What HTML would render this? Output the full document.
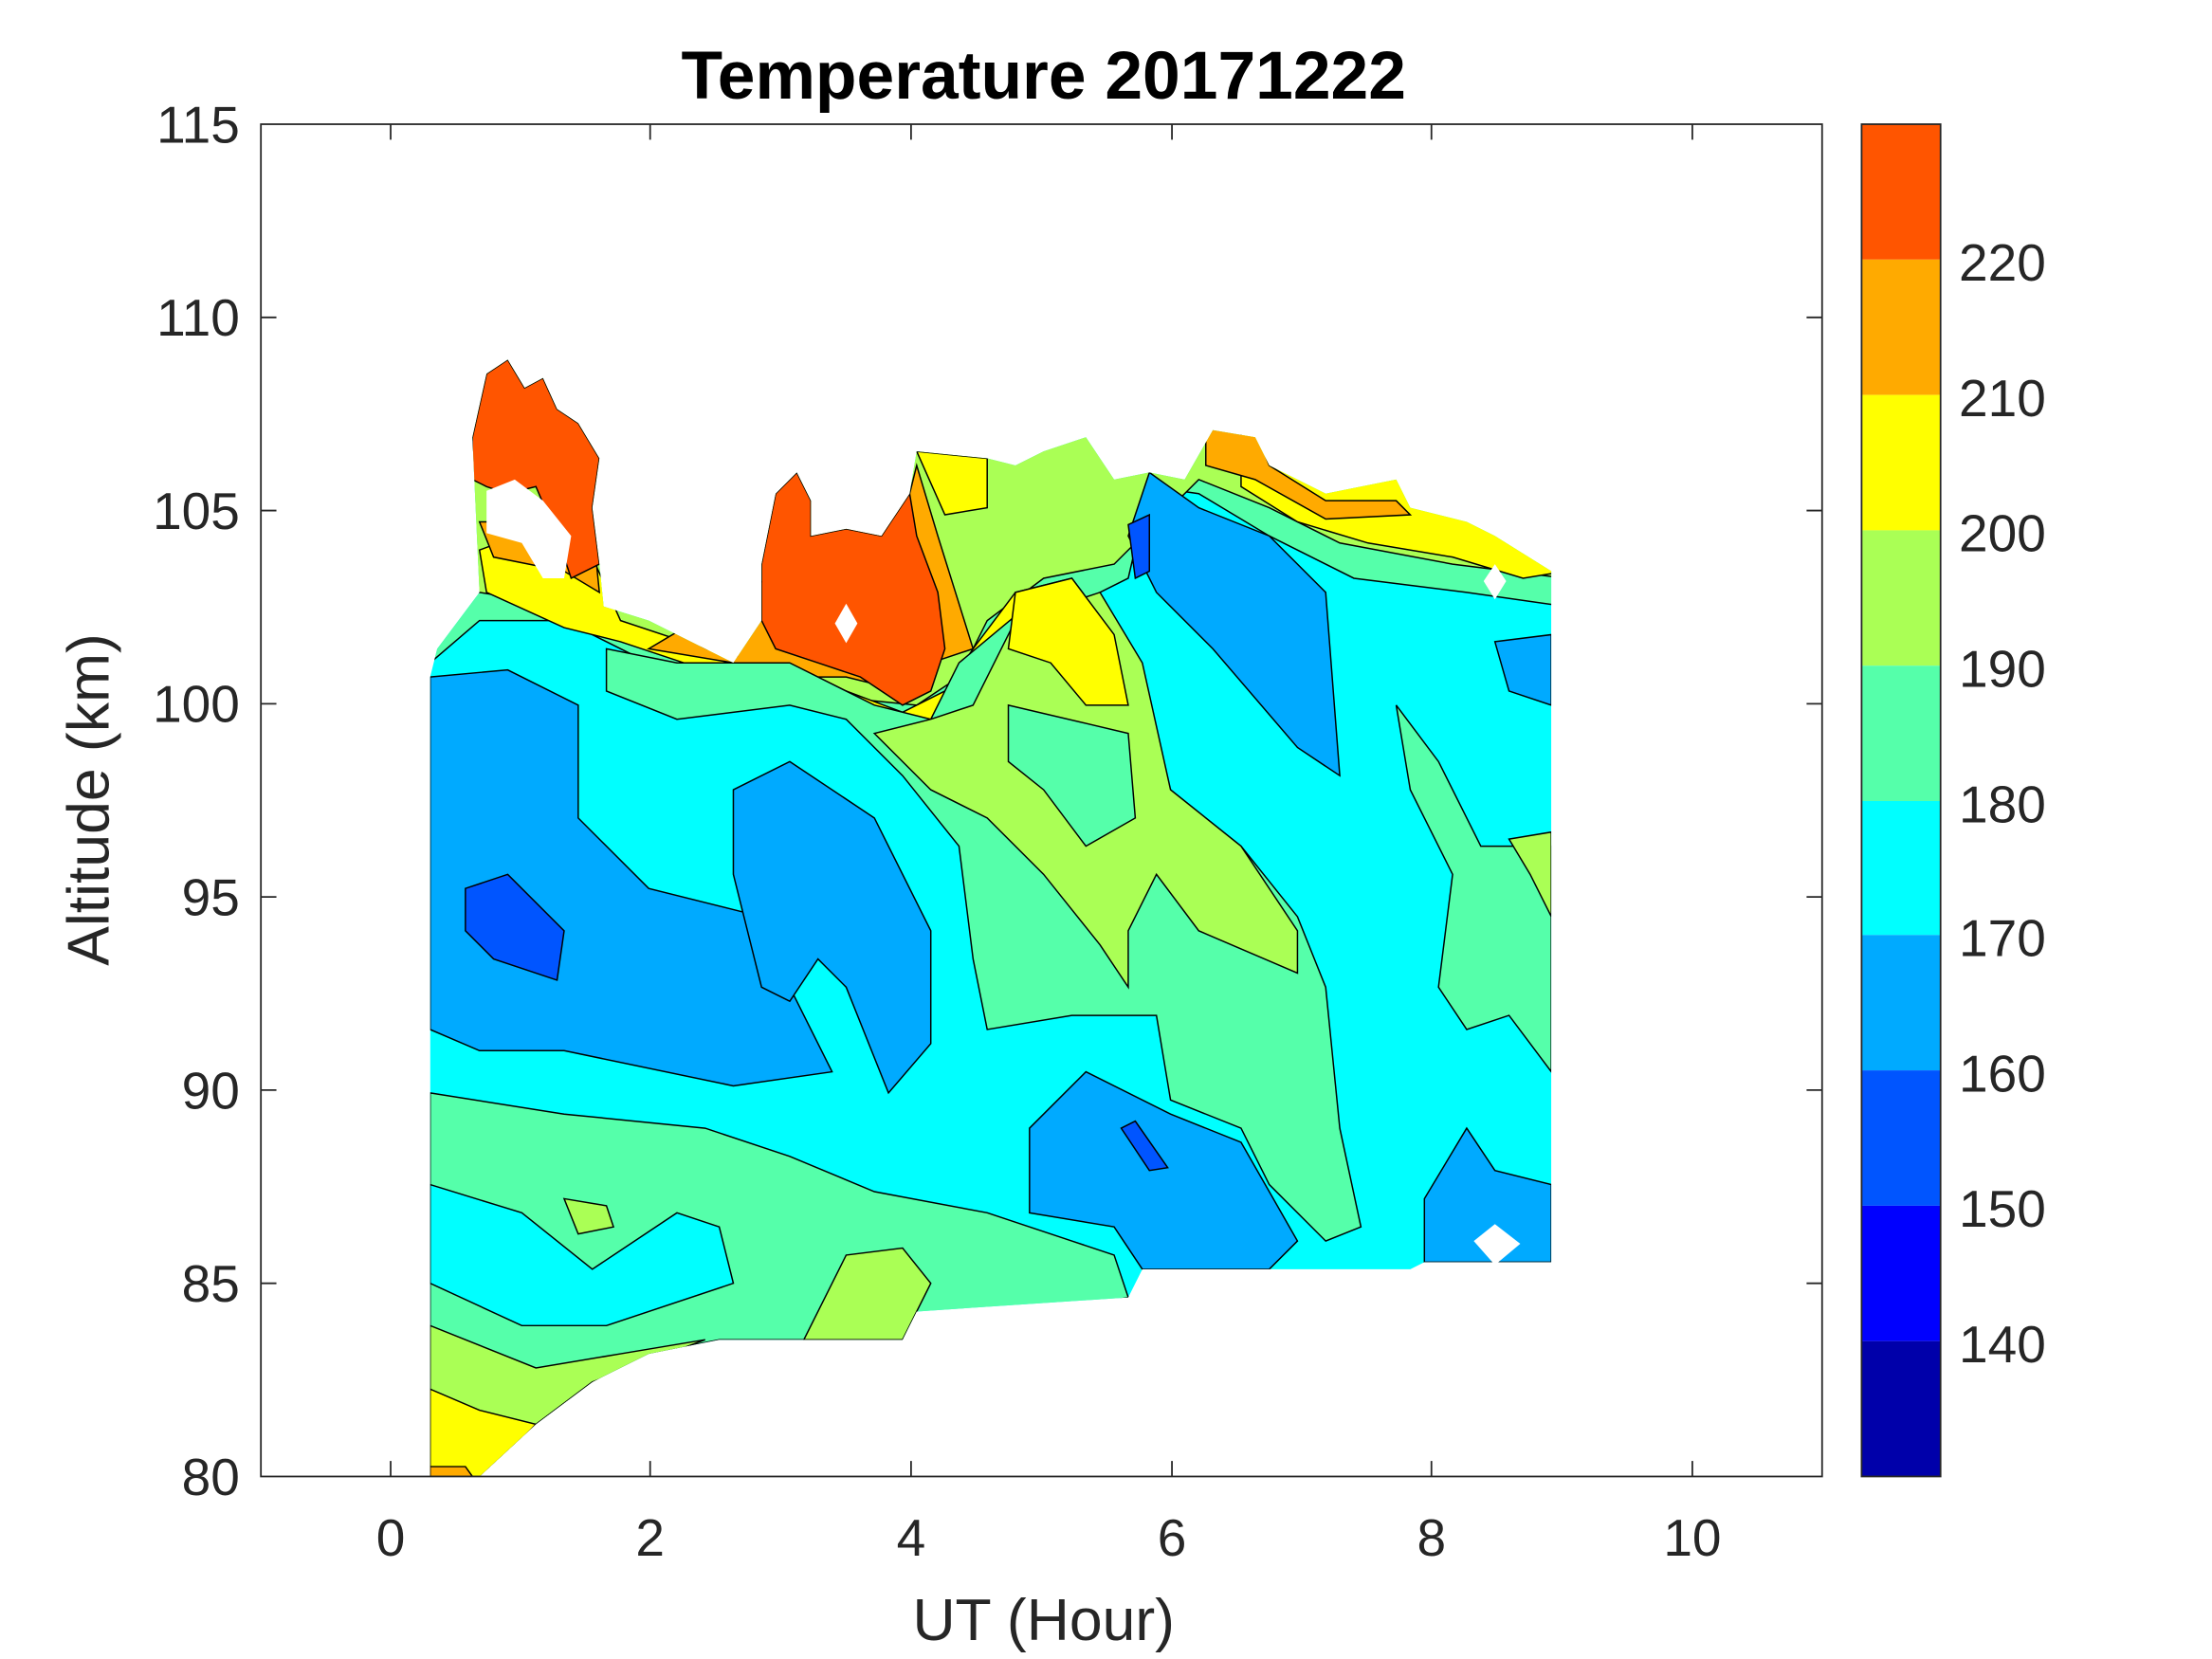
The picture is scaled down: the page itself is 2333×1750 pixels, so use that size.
<!DOCTYPE html>
<html><head><meta charset="utf-8"><style>html,body{margin:0;padding:0;background:#fff}svg{display:block}</style></head>
<body>
<svg width="2333" height="1750" viewBox="0 0 1552 1164" xmlns="http://www.w3.org/2000/svg" font-family="Liberation Sans, sans-serif">
<defs>
<clipPath id="dc"><polygon points="305,480 310,460 340,420 335,310 345,265 360,255 372,275 385,268 395,290 410,300 425,325 420,360 425,400 428,430 460,440 500,460 520,470 540,440 540,400 550,350 565,335 575,355 575,380 600,375 625,380 645,350 650,320 700,325 720,330 740,320 770,310 790,340 815,335 840,340 860,305 890,310 900,330 940,350 990,340 1000,360 1040,370 1060,380 1100,405 1100,895 1010,895 1000,900 810,900 800,920 650,930 640,950 510,950 460,960 420,980 380,1010 340,1047 305,1047"/></clipPath>
</defs>
<g transform="scale(0.9895)">
<g clip-path="url(#dc)" stroke="#000" stroke-width="1">
<rect x="300" y="250" width="810" height="800" fill="#00FFFF" stroke="none"/>
<polygon fill="#55FFAA" points="300,250 1110,250 1110,430 1040,420 960,410 900,380 850,350 815,345 800,410 760,430 700,480 660,520 600,505 520,490 460,470 400,440 340,440 305,470"/>
<polygon fill="#AAFF55" points="300,250 1110,250 1110,410 1030,400 950,385 900,360 850,340 790,400 740,410 700,440 680,480 650,500 600,495 520,480 460,455 400,430 340,420 300,440"/>
<polygon fill="#FFFF00" points="340,390 380,375 420,395 440,440 500,460 540,470 600,490 640,505 670,490 690,460 720,420 760,410 790,450 790,500 760,490 730,480 700,500 660,515 620,510 560,495 500,475 440,455 400,445 345,420"/>
<polygon fill="#FFFF00" points="650,320 700,325 700,360 670,365"/>
<polygon fill="#FFFF00" points="880,300 1110,300 1110,405 1080,410 1030,395 970,385 920,370 880,345"/>
<polygon fill="#FFAA00" points="340,370 420,370 425,420 400,405 350,395"/>
<polygon fill="#FFAA00" points="460,460 520,470 560,480 600,480 640,490 660,470 690,460 665,380 650,330 645,350"/>
<polygon fill="#FFAA00" points="855,300 890,305 900,330 940,355 990,355 1000,365 940,368 890,340 855,330"/>
<polygon fill="#FF5500" points="335,310 345,265 360,255 372,275 385,268 395,290 410,300 425,325 420,360 425,400 405,410 395,380 380,345 360,350 345,345 335,340"/>
<polygon fill="#FF5500" points="540,400 550,350 565,335 575,355 575,380 600,375 625,380 645,350 650,380 665,420 670,460 660,490 640,500 610,480 580,470 550,460 540,440"/>
<polygon fill="#55FFAA" points="680,470 740,420 800,480 830,560 880,600 920,650 940,700 950,800 965,870 940,880 900,840 880,800 830,780 820,720 760,720 700,730 690,680 680,600 640,550 600,510 560,500 480,510 430,490 430,460 480,470 560,470 620,500 660,510"/>
<polygon fill="#AAFF55" points="690,500 720,440 780,420 810,470 830,560 880,600 920,660 920,690 850,660 820,620 800,660 800,700 780,670 740,620 700,580 660,560 620,520 660,510"/>
<polygon fill="#FFFF00" points="720,420 760,410 790,450 800,500 770,500 745,470 715,460"/>
<polygon fill="#55FFAA" points="715,500 800,520 805,580 770,600 740,560 715,540"/>
<polygon fill="#55FFAA" points="990,500 1020,540 1050,600 1100,600 1100,760 1070,720 1040,730 1020,700 1030,620 1000,560"/>
<polygon fill="#AAFF55" points="1070,595 1100,590 1100,650 1085,620"/>
<polygon fill="#00AAFF" points="305,480 360,475 410,500 410,580 460,630 540,650 560,700 590,760 520,770 400,745 340,745 305,730"/>
<polygon fill="#0055FF" points="330,630 360,620 400,660 395,695 350,680 330,660"/>
<polygon fill="#00AAFF" points="520,560 560,540 620,580 660,660 660,740 630,775 600,700 580,680 560,710 540,700 520,620"/>
<polygon fill="#00AAFF" points="815,335 850,360 900,380 940,420 950,550 920,530 860,460 820,420 800,380"/>
<polygon fill="#0055FF" points="800,372 815,365 815,405 805,410"/>
<polygon fill="#00AAFF" points="730,800 770,760 830,790 880,810 920,880 900,900 810,900 790,870 730,860"/>
<polygon fill="#0055FF" points="795,800 805,795 828,828 815,830"/>
<polygon fill="#00AAFF" points="1010,850 1040,800 1060,830 1100,840 1100,895 1010,895"/>
<polygon fill="#00AAFF" points="1060,455 1100,450 1100,500 1070,490"/>
<polygon fill="#55FFAA" points="305,775 400,790 500,800 560,820 620,845 700,860 760,880 790,890 800,920 640,950 510,950 460,960 420,980 380,1010 340,1047 305,1047"/>
<polygon fill="#00FFFF" points="305,840 370,860 420,900 480,860 510,870 520,910 430,940 370,940 305,910"/>
<polygon fill="#AAFF55" points="400,850 430,855 435,870 410,875"/>
<polygon fill="#AAFF55" points="600,890 640,885 660,910 640,950 570,950"/>
<polygon fill="#AAFF55" points="305,940 380,970 440,960 500,950 460,965 420,980 380,1010 340,1047 305,1047"/>
<polygon fill="#FFFF00" points="305,985 340,1000 380,1010 345,1047 305,1047"/>
<polygon fill="#FFAA00" points="305,1040 330,1040 335,1047 305,1047"/>
</g>
<g fill="#fff">
<polygon points="345,348 365,340 385,355 405,380 400,410 385,410 370,385 345,378"/>
<polygon points="600,428 608,442 600,456 592,442"/>
<polygon points="1060,400 1068,412 1060,425 1052,412"/>
<polygon points="1045,880 1060,868 1078,882 1060,897"/>
<polygon points="930,900 940,912 932,925 922,912"/>
</g>
<rect x="185" y="88" width="1107" height="959" fill="none" stroke="#262626" stroke-width="1.2"/>
<g stroke="#262626" stroke-width="1.2">
<line x1="277" y1="1047" x2="277" y2="1036"/><line x1="461" y1="1047" x2="461" y2="1036"/><line x1="646" y1="1047" x2="646" y2="1036"/><line x1="831" y1="1047" x2="831" y2="1036"/><line x1="1015" y1="1047" x2="1015" y2="1036"/><line x1="1200" y1="1047" x2="1200" y2="1036"/>
<line x1="277" y1="88" x2="277" y2="99"/><line x1="461" y1="88" x2="461" y2="99"/><line x1="646" y1="88" x2="646" y2="99"/><line x1="831" y1="88" x2="831" y2="99"/><line x1="1015" y1="88" x2="1015" y2="99"/><line x1="1200" y1="88" x2="1200" y2="99"/>
<line x1="185" y1="225" x2="196" y2="225"/><line x1="185" y1="362" x2="196" y2="362"/><line x1="185" y1="499" x2="196" y2="499"/><line x1="185" y1="636" x2="196" y2="636"/><line x1="185" y1="773" x2="196" y2="773"/><line x1="185" y1="910" x2="196" y2="910"/>
<line x1="1292" y1="225" x2="1281" y2="225"/><line x1="1292" y1="362" x2="1281" y2="362"/><line x1="1292" y1="499" x2="1281" y2="499"/><line x1="1292" y1="636" x2="1281" y2="636"/><line x1="1292" y1="773" x2="1281" y2="773"/><line x1="1292" y1="910" x2="1281" y2="910"/>
</g>
<g font-size="37" fill="#262626" text-anchor="middle">
<text x="277" y="1103">0</text><text x="461" y="1103">2</text><text x="646" y="1103">4</text><text x="831" y="1103">6</text><text x="1015" y="1103">8</text><text x="1200" y="1103">10</text>
</g>
<g font-size="37" fill="#262626" text-anchor="end">
<text x="170" y="101">115</text><text x="170" y="238">110</text><text x="170" y="375">105</text><text x="170" y="512">100</text><text x="170" y="649">95</text><text x="170" y="786">90</text><text x="170" y="923">85</text><text x="170" y="1060">80</text>
</g>
<text x="740" y="1163" font-size="42" fill="#262626" text-anchor="middle">UT (Hour)</text>
<text transform="translate(77,567) rotate(-90)" font-size="42" fill="#262626" text-anchor="middle">Altitude (km)</text>
<text x="740" y="70" font-size="48" font-weight="bold" text-anchor="middle">Temperature 20171222</text>
<rect x="1320" y="88" width="56" height="96" fill="#FF5500"/>
<rect x="1320" y="184" width="56" height="96" fill="#FFAA00"/>
<rect x="1320" y="280" width="56" height="96" fill="#FFFF00"/>
<rect x="1320" y="376" width="56" height="96" fill="#AAFF55"/>
<rect x="1320" y="472" width="56" height="96" fill="#55FFAA"/>
<rect x="1320" y="568" width="56" height="95" fill="#00FFFF"/>
<rect x="1320" y="663" width="56" height="96" fill="#00AAFF"/>
<rect x="1320" y="759" width="56" height="96" fill="#0055FF"/>
<rect x="1320" y="855" width="56" height="96" fill="#0000FF"/>
<rect x="1320" y="951" width="56" height="96" fill="#0000AA"/>
<rect x="1320" y="88" width="56" height="959" fill="none" stroke="#262626" stroke-width="1.2"/>
<g font-size="37" fill="#262626">
<text x="1389" y="199">220</text><text x="1389" y="295">210</text><text x="1389" y="391">200</text><text x="1389" y="487">190</text><text x="1389" y="583">180</text><text x="1389" y="678">170</text><text x="1389" y="774">160</text><text x="1389" y="870">150</text><text x="1389" y="966">140</text>
</g>
</g>
</svg>
</body></html>
